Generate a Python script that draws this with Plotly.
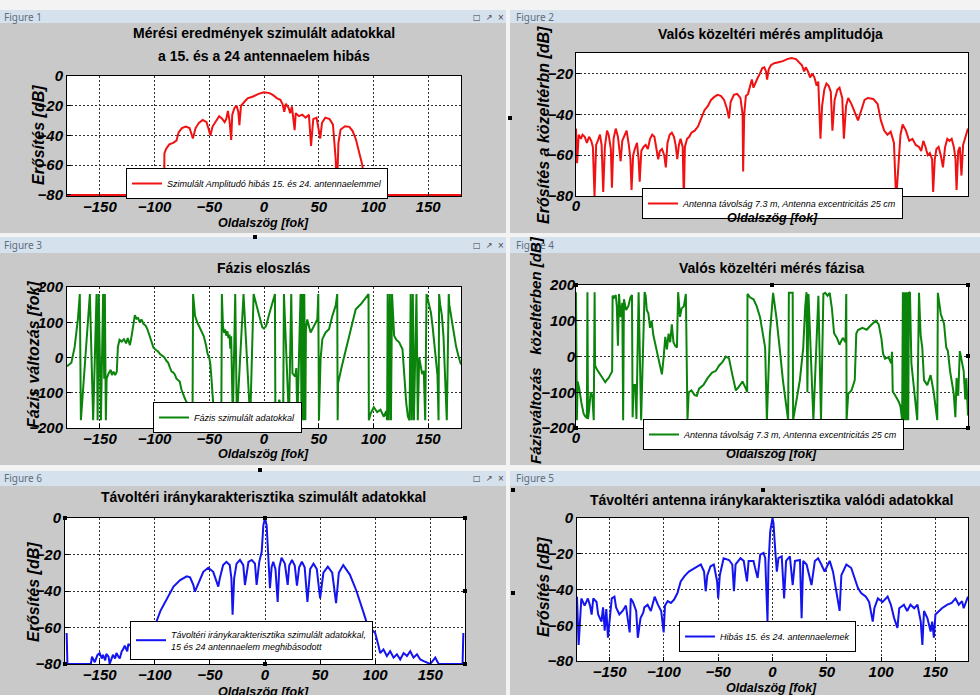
import plotly.graph_objects as go

W, H = 980, 695
FONT = "Liberation Sans, Arial, sans-serif"

RED = "#f01212"
GREEN = "#0b840b"
BLUE = "#1414f0"

# ---------------- data (angle, value) ----------------
sim_amplitude = [
    (-180, -80), (-91.2, -80), (-91, -52), (-89.5, -49), (-86.5, -46), (-83, -45), (-80, -43.5),
    (-78, -38), (-75, -35), (-71.5, -34), (-68, -35), (-66.5, -38), (-65, -42), (-62.5, -35),
    (-59.5, -31.5), (-56, -29.5), (-52.5, -31), (-50.5, -36), (-49, -40), (-47, -34), (-44, -30.5),
    (-41, -27), (-38.5, -28.5), (-36, -31), (-34.5, -29), (-33, -23.5), (-31.5, -30), (-30, -43),
    (-29, -26), (-27, -21.5), (-25, -20), (-23.5, -24), (-22.5, -33), (-21, -20), (-18, -17.5),
    (-15, -15), (-10, -13.8), (-5, -12), (0, -11), (5, -11.5), (8, -12.7), (12, -15), (15, -16),
    (17, -19), (18.5, -24), (20, -18.7), (22.5, -21.5), (24, -25), (25.5, -20.5), (28, -36.4),
    (29, -25), (32, -27), (35, -26), (38, -28), (41, -26), (43, -47), (45, -29), (48, -28),
    (51.4, -42), (53, -31.5), (56, -28), (60, -29), (63, -32.7), (65.5, -56), (66.5, -80),
    (68, -45), (70, -36), (74, -33.8), (78, -34.2), (81, -37), (84, -42.7), (87, -51.5),
    (90, -60.4), (90.5, -80), (180, -80),
]

real_nf_amplitude = [
    (0, -47), (1, -64), (2.5, -50), (4.5, -52), (6, -50), (8, -51), (10, -54), (12, -51), (14, -53),
    (15.5, -56), (17, -80), (18.5, -55), (20, -53), (22, -50), (23.5, -55), (25, -78), (26.5, -56),
    (28.5, -48), (30, -50), (32, -57), (33, -76), (34.5, -52), (36.5, -47), (38.5, -51), (40, -58),
    (41, -63), (42.5, -53), (44.5, -50), (46.5, -48), (48.5, -55), (50, -62), (51, -77), (52.5, -60),
    (54, -57), (56, -54), (57.5, -62), (58.5, -73), (60, -58), (62, -56), (64, -55), (66, -57),
    (68, -52), (70, -50), (72, -51), (74, -57), (75.5, -62), (77, -58), (79, -57), (81, -60),
    (82.5, -66), (84, -54), (86, -50), (88, -49), (90, -51), (91.5, -55), (93, -62), (94.5, -55),
    (96, -52), (98, -56), (99, -82), (100, -56), (102, -52), (104, -51), (106, -49), (109, -48),
    (112, -46), (115, -42), (118, -38), (121, -36), (124, -33), (127, -31.5), (130, -30.5),
    (133, -31), (136, -33), (138.5, -37), (140.5, -42), (142, -34), (145, -30.5), (148, -30),
    (151, -32), (153, -40), (153.5, -68), (154.5, -40), (156, -31), (158, -30), (160, -26),
    (161.5, -23), (163, -27), (165, -24), (167, -22), (169, -20), (171, -17.5), (173, -17),
    (174.5, -19), (175.5, -23), (177, -18), (179, -16), (182, -15), (186, -14.5), (190, -14),
    (194, -13), (198, -12.5), (202, -13), (205, -14.5), (207.5, -16), (209.5, -19), (211, -17),
    (213, -19), (215, -22), (217, -20), (219, -22), (221, -26), (222.5, -24), (224.5, -52),
    (226, -36), (228, -28), (230, -25), (232, -26), (234, -29), (235.5, -48), (237.5, -33),
    (240, -28), (242, -27), (244.5, -32), (246, -52), (248, -36), (250, -32), (253, -35),
    (256, -39), (259, -43), (262, -38), (265, -33), (268, -32), (273, -32.5), (277, -35),
    (280, -43), (283, -48), (286, -50), (289, -48.5), (292, -54), (294, -82), (296, -66),
    (298, -50), (300, -45), (303, -48), (306, -53), (309, -52), (312, -55), (315, -56), (317, -58),
    (319, -53), (321, -56), (323, -60), (325, -59), (327, -62), (328, -78), (329.5, -62),
    (331, -57), (333, -56), (335, -60), (337, -66), (339, -56), (341, -52), (343, -53), (345, -52),
    (347, -56), (348.5, -62), (349.5, -77), (351, -58), (352.5, -56), (354, -70), (355.5, -55),
    (357, -52), (360, -47),
]

sim_phase = [
    (-180, -25), (-176, -15), (-173, 30), (-170, 110), (-168.3, 180), (-167.3, -178), (-159.1, 180),
    (-156.1, -178), (-153, 180), (-152, -178), (-151, 180), (-149, -178), (-147, 180), (-146, -60),
    (-145.4, 180), (-144.5, -178), (-143.8, -60), (-142, -45), (-140, -35), (-139, -50),
    (-137.5, -40), (-136, -50), (-134.5, -40), (-133.5, 30), (-132, 50), (-130, 45), (-128, 52),
    (-126, 40), (-124.5, 55), (-122.5, 35), (-121, 60), (-119.5, 95), (-118, 120), (-116.5, 110),
    (-115, 112), (-113.5, 100), (-112, 108), (-110, 95), (-108, 90), (-106.5, 80), (-104.5, 60),
    (-102.5, 40), (-101, 28), (-99, 22), (-97, 18), (-95, 10), (-93, 5), (-91, 0), (-89, -10),
    (-87.5, -15), (-86, -28), (-84.5, -40), (-83, -42), (-81.5, -48), (-80, -60), (-78.5, -65),
    (-77, -68), (-75.5, -90), (-74, -105), (-72.5, -115), (-71, -125), (-69.5, -132), (-68, -150),
    (-66.5, -170), (-65.3, -178), (-64.8, 180), (-64, 140), (-63, 118), (-61, 100), (-59, 85),
    (-57, 72), (-55, 60), (-53, 35), (-51.5, 10), (-50, 0), (-49, -20), (-48, -60), (-47, -110),
    (-46, -150), (-45, -175), (-42, -178), (-39, -178), (-38.5, 180), (-37.5, 90), (-36.5, 70),
    (-35.5, 80), (-34.5, 62), (-33.5, 75), (-32.5, 55), (-31.5, 65), (-30.8, 25), (-30, 60),
    (-29.3, -100), (-28.5, -178), (-26.3, 180), (-24.8, -178), (-18.7, 180), (-12.6, -178),
    (-9.5, 180), (-6.5, 147), (-3.4, 110), (-1.6, 86), (0, 82), (2, 90), (4.4, 119), (7.5, 157),
    (10, 180), (10.4, -178), (14, -120), (17.5, -178), (18.2, 180), (22.8, -178), (24.9, 180),
    (26, -45), (27.4, -50), (28.5, -54), (29.5, -30), (30.5, -178), (33.4, 180), (34.3, -178),
    (35, 180), (36, -178), (36.8, 180), (37.8, -178), (38.3, 80), (39.5, 108), (42.6, 71),
    (45.6, 90), (48.7, 108), (49.6, 180), (50.2, -178), (51.7, -4), (53.3, 52), (56.3, 71),
    (59.4, 80), (62.4, 118), (65.5, 147), (66.9, 180), (67.3, -178), (67.7, -73), (71, -26),
    (74.6, 21), (79.2, 80), (83.8, 137), (88.4, 151), (93, 170), (95.5, 180), (95.8, -178),
    (97.3, -160), (100.3, -141), (103.4, -155), (106.4, -148), (109.5, -168), (111.6, -152),
    (112.5, -178), (113, 180), (114, -178), (115, 180), (116, -178), (117, 180), (118.9, 62),
    (121, 50), (123.5, 43), (126.5, 24), (127.5, -23), (128.5, -73), (130, -130), (131.5, -168),
    (133, -178), (134, 180), (135, -178), (136, 180), (137, -178), (139.3, 180), (140.5, -178),
    (141.8, 0), (143, -19), (144.5, -47), (146, -38), (147.3, -178), (148.5, 180), (150.9, 150),
    (152.5, 128), (154, 90), (155.5, 43), (157, 0), (158.5, -50), (159.5, -178), (160, 180),
    (161, 150), (162.5, 120), (164, 60), (165.5, -80), (167, -178), (168.8, 180), (169.3, 150),
    (172.4, 90), (175.4, 33), (178, 0), (180, -20),
]

real_nf_phase = [
    (0, 180), (0.8, -178), (1.5, -70), (3, -90), (5, -130), (7, -160), (8.6, -168), (10, -172),
    (10.5, 180), (11, -175), (12, -150), (13.5, -100), (15, -110), (16.3, -178), (17.1, 180),
    (17.5, -25), (19, -35), (21, -45), (23.5, -55), (26.9, -72), (28.5, -65), (30, -60), (32, -48),
    (33.2, -42), (33.6, 170), (35, 165), (36.5, 172), (37.5, 140), (38.5, 30), (39.5, 175),
    (41, 110), (42.5, 150), (43.3, -178), (44, 160), (46, 130), (48, 140), (50, 165), (51.4, 172),
    (52, -170), (53, -80), (54.5, -80), (55.5, -175), (57.5, 180), (59, -20), (59.8, -178),
    (63, 180), (64, 170), (65, 130), (66.5, 120), (68, 80), (69.5, 100), (71, 60), (73, 30),
    (75, 0), (77, -25), (78.9, -50), (80.5, -2), (82, 55), (83.5, 20), (85, 64), (86.5, 40),
    (88, 90), (89.5, 40), (91, 30), (92.7, 25), (93.8, 180), (95.5, 111), (97, 135), (99, 140),
    (100.9, 175), (102.4, -178), (103.5, -100), (106, -95), (109, -108), (111, -110), (113, -90),
    (117, -80), (121, -60), (125, -45), (128.5, -40), (131.5, -25), (134.6, -15), (137.6, 0),
    (140.5, -5), (143.5, -50), (146.8, -95), (149.5, -85), (152.9, -70), (156, -90), (157.2, -100),
    (157.5, 175), (160, 165), (163, 160), (166, 140), (169, 110), (171.5, 64), (173.7, 25),
    (175.3, -178), (176.5, -60), (178, 60), (181, 178), (184, 110), (187, 25), (190, -66),
    (194.8, -178), (195.5, 178), (199, 178), (199.4, -178), (205.6, -66), (208.7, 25),
    (210.5, 140), (211.7, 180), (212.5, -100), (213.5, 175), (218, -178), (222.6, 170),
    (225, -178), (227.2, 175), (229, 178), (231, 170), (233, 178), (235, 135), (237, 65),
    (239.6, 52), (242, 33), (245, 52), (247.5, 40), (248.2, 175), (248.5, -178), (250, -104),
    (253, -95), (256, -66), (257.4, 64), (259, 74), (263, 80), (267, 75), (271, 88), (274, 97),
    (275.3, 100), (278, 90), (280.5, 50), (282, 8), (283.8, -6), (287, -2), (289.5, -19),
    (290.2, 13), (290.9, -98), (294, -113), (296.5, -127), (298, -140), (299.5, -178), (300.2, 180),
    (300.9, -178), (301.6, 180), (302.3, -178), (303, 180), (303.7, -178), (304.4, 180),
    (305.1, -178), (305.8, 178), (306.7, 180), (308, -19), (310, -75), (312, -122), (313.4, -178),
    (315, 178), (316.5, 60), (318, 25), (319.6, -66), (322.6, -80), (325.7, -52), (328.5, -100),
    (331.8, -178), (332.3, 178), (335, 119), (338, 92), (340, 25), (341.5, 16), (343.5, -40),
    (346.9, -104), (348.4, -170), (349.5, -60), (351, -110), (352.5, 15), (354, -5), (356, -40),
    (357.5, -120), (358.5, -60), (360, -165),
]

sim_far_field = [
    (-180, -63), (-179.3, -80), (-158, -80), (-157, -76), (-154.5, -79), (-152, -75), (-150, -74),
    (-148, -77), (-147, -75), (-145, -78), (-144, -74.5), (-142, -76), (-141, -80), (-139, -76),
    (-138, -75), (-136, -77), (-134.8, -74), (-133, -76), (-131.8, -77), (-130, -73),
    (-128.8, -72), (-127.3, -70), (-125, -73), (-124, -69), (-120, -71), (-115, -68), (-110, -65),
    (-105, -61), (-100, -58), (-98.5, -56.7), (-95, -51), (-89, -44), (-83, -37.6), (-77, -34),
    (-71, -32), (-68, -32.5), (-65, -36.7), (-63.6, -40.4), (-60.5, -35.8), (-56, -29.5),
    (-51.5, -27.3), (-47, -29.5), (-42.4, -37.6), (-41, -33), (-38, -25.8), (-35, -24),
    (-32, -25.8), (-30.5, -33), (-29.4, -53), (-28, -33), (-25.8, -25), (-22.7, -23),
    (-19.7, -25.8), (-18.2, -36.7), (-15, -24), (-12, -23), (-9.1, -25), (-7.6, -36.7),
    (-5.2, -24), (-3, -18.5), (-1.5, -4), (0, 0), (1.5, -4), (3, -18.5), (4.5, -38.5), (6, -27),
    (7.5, -24), (9.5, -28), (11.5, -46), (13, -27), (15, -21.8), (18, -25), (20.6, -36.7),
    (22, -26), (24.5, -23), (27, -26), (29, -37), (31, -27), (33.5, -24), (36, -27),
    (38.5, -46), (41, -28), (44, -25), (47, -28), (50, -44), (53, -30), (57, -26.7), (61, -30),
    (64.5, -46.7), (67, -30), (71, -25.8), (77, -31), (83, -40), (89, -51), (92, -56.7),
    (95, -60), (100, -63), (103, -70), (104.5, -74), (107.5, -72), (110.6, -75.6), (113.6, -73),
    (116.7, -76.5), (119.7, -74.7), (122.7, -77.5), (125.8, -74), (128.8, -75.6), (131.8, -73),
    (134.8, -76.5), (137.9, -74.7), (140.9, -77.5), (144, -78.4), (147, -79), (150, -80),
    (154.5, -76.5), (157.6, -80), (179.3, -80), (180, -63),
]

real_far_field = [
    (-180, -44), (-178.5, -71), (-176, -45), (-173, -49), (-170, -45), (-168, -49), (-166.5, -54),
    (-165, -45), (-162, -47), (-160.5, -54), (-157.5, -58), (-156, -50), (-154.5, -63),
    (-153, -51), (-151.5, -67), (-150, -58), (-148, -45), (-145.5, -44), (-144, -50), (-141, -54),
    (-138, -52), (-135, -49), (-131.5, -64), (-130.5, -45), (-128.5, -47), (-125.5, -52),
    (-124, -67), (-121.5, -56), (-119, -53), (-118, -50), (-115, -48.5), (-112, -52),
    (-108.5, -44), (-105.5, -48.5), (-102.5, -52), (-100.2, -64), (-99, -49), (-96.5, -46.5),
    (-93.5, -47.5), (-90.5, -45.5), (-87.5, -42), (-84.5, -35.5), (-81, -32.5), (-77, -30),
    (-72, -28), (-66, -26), (-63, -30), (-61.5, -41), (-60, -32), (-57, -27), (-54, -26),
    (-51, -35.5), (-50, -45), (-48.5, -32), (-45, -22.5), (-40, -23.5), (-37, -26), (-35.5, -41),
    (-34, -26), (-29.5, -22.5), (-26.5, -24), (-23.5, -35.5), (-22, -24), (-17.5, -24),
    (-16, -28), (-13.7, -33.5), (-11.3, -20.5), (-8.2, -19.5), (-6.7, -22.5), (-5.2, -52),
    (-4.6, -58), (-3.7, -26), (-2.1, -7.5), (0, 0), (0.9, -2.8), (2.4, -17), (4, -30),
    (5.5, -22.5), (8.5, -21.5), (10.7, -45), (12.5, -24), (16, -21.5), (18.6, -37.5),
    (20.7, -24), (25.3, -23.5), (26.8, -56), (28.3, -24), (31.4, -26), (35.9, -37.5), (39, -24),
    (42, -22.5), (45, -26), (48, -30), (51, -26), (52.7, -24), (55.7, -30), (61.8, -52),
    (63.4, -32), (68, -26), (72.5, -28), (75.5, -33.5), (78.6, -39), (81.6, -42), (86, -44),
    (89, -47), (92.3, -58), (93.8, -50.5), (97, -45), (101.4, -47), (106, -44), (109, -48.5),
    (112, -56), (115, -61.5), (116.7, -50.5), (121, -48.5), (124, -52), (127, -48.5),
    (130.5, -50.5), (133.5, -48.5), (136.5, -58), (138, -71), (139.5, -52), (142.6, -56),
    (145.6, -63.5), (147, -58), (148.6, -67), (150, -54), (153, -52), (156, -50.5), (161, -48.5),
    (165, -47.5), (168.5, -45), (171.5, -48.5), (174.5, -46.5), (176, -50.5), (180, -44),
]

tick_side = [-150, -100, -50, 0, 50, 100, 150]
tick_full = [0, 360]
tick_db = [0, -20, -40, -60, -80]
tick_db_nf = [-20, -40, -60, -80]
tick_phase = [200, 100, 0, -100, -200]

legend_texts = [
    "Szimulált Amplitudó hibás 15. és 24. antennaelemmel",
    "Antenna távolság 7.3 m, Antenna excentricitás 25 cm",
    "Fázis szimulált adatokkal",
    "Antenna távolság 7.3 m, Antenna excentricitás 25 cm",
    "Távoltéri iránykarakterisztika szimulált adatokkal,<br>15 és 24 antennaelem meghibásodott",
    "Hibás 15. és 24. antennaelemek",
]


# ---------------- helpers ----------------
def fx(px):
    return px / W


def fy(py):
    return 1 - py / H


def axis(dom, rng, tickvals, grid=True, standoff=None, **kw):
    d = dict(
        domain=dom, range=rng, tickvals=tickvals, showline=True, mirror=True,
        linecolor="black", linewidth=1, ticks="inside", ticklen=4, tickcolor="black",
        tickfont=dict(family=FONT, size=15, color="black", weight="bold", style="italic"),
        showgrid=grid, gridcolor="#303030", griddash="2px,2px", gridwidth=1,
        zeroline=False, fixedrange=True, automargin=False,
    )
    if standoff is not None:
        d["ticklabelstandoff"] = standoff
    d.update(kw)
    return d


fig = go.Figure()

series = [
    (sim_amplitude, RED, "x", "y", "legend"),
    (real_nf_amplitude, RED, "x2", "y2", "legend2"),
    (sim_phase, GREEN, "x3", "y3", "legend3"),
    (real_nf_phase, GREEN, "x4", "y4", "legend4"),
    (sim_far_field, BLUE, "x5", "y5", "legend5"),
    (real_far_field, BLUE, "x6", "y6", "legend6"),
]
for (pts, col, xa, ya, lg), name in zip(series, legend_texts):
    xs = [p[0] for p in pts]
    ys = [p[1] for p in pts]
    fig.add_trace(go.Scatter(x=xs, y=ys, mode="lines", name=name, xaxis=xa, yaxis=ya,
                             legend=lg, line=dict(color=col, width=2), hoverinfo="skip"))

# plot rectangles in pixels: (left, right, top, bottom)
P1 = (67, 461, 76, 196)
P2 = (576, 968, 53, 196)
P3 = (67, 461, 287, 428)
P4 = (576, 968, 285, 428)
P5 = (65, 465, 518, 664)
P6 = (577, 968, 518, 661)


def dx(p):
    return [fx(p[0]), fx(p[1])]


def dy(p):
    return [fy(p[3]), fy(p[2])]


layout_axes = dict(
    xaxis=axis(dx(P1), [-180, 180], tick_side, anchor="y", standoff=-3),
    yaxis=axis(dy(P1), [-80.7, 0], tick_db, anchor="x"),
    xaxis2=axis(dx(P2), [0, 360], tick_full, grid=False, anchor="y2", standoff=-4),
    yaxis2=axis(dy(P2), [-80, -10], tick_db_nf, anchor="x2", standoff=-1),
    xaxis3=axis(dx(P3), [-180, 180], tick_side, anchor="y3", standoff=-3),
    yaxis3=axis(dy(P3), [-200, 200], tick_phase, anchor="x3"),
    xaxis4=axis(dx(P4), [0, 360], tick_full, grid=False, anchor="y4", standoff=-4),
    yaxis4=axis(dy(P4), [-200, 200], tick_phase, anchor="x4", standoff=-3),
    xaxis5=axis(dx(P5), [-181.5, 181.5], tick_side, anchor="y5", standoff=-3),
    yaxis5=axis(dy(P5), [-80, 0], tick_db, anchor="x5"),
    xaxis6=axis(dx(P6), [-180, 180], tick_side, anchor="y6", standoff=-3),
    yaxis6=axis(dy(P6), [-80, 0], tick_db, anchor="x6"),
)


def legend_at(px, py):
    return dict(
        x=fx(px), y=fy(py), xanchor="left", yanchor="top", bgcolor="white",
        bordercolor="black", borderwidth=1, itemwidth=30, tracegroupgap=0,
        font=dict(family=FONT, size=9, color="black", style="italic"),
        itemclick=False, itemdoubleclick=False,
    )


legends = dict(
    legend=legend_at(126, 168),
    legend2=legend_at(642, 188),
    legend3=legend_at(153, 402),
    legend4=legend_at(643, 419),
    legend5=legend_at(130, 621),
    legend6=legend_at(679, 621),
)

# ---------------- window chrome ----------------
shapes = []


def rect(x0, y0, x1, y1, color, layer="below"):
    shapes.append(dict(type="rect", xref="paper", yref="paper", x0=fx(x0), x1=fx(x1),
                       y0=fy(y1), y1=fy(y0), fillcolor=color, line=dict(width=0), layer=layer))


SEP = "#f3f3f3"
BAR = "#d5e1ed"
rect(0, 0, 980, 10, SEP)
rect(0, 233, 980, 237, SEP)
rect(0, 465, 980, 471, SEP)
rect(506, 0, 510, 695, SEP)
for (y0, y1) in [(10, 23), (237, 253), (471, 486)]:
    rect(0, y0, 506, y1, BAR)
    rect(510, y0, 980, y1, BAR)

# small edit handles seen on the screenshot
handles = [(576, 285), (772, 285), (968, 285), (968, 356), (968, 428), (772, 428), (576, 428),
           (65, 518), (265, 518), (465, 518), (465, 591), (465, 664), (265, 664), (65, 664),
           (513, 490), (763, 490), (513, 593), (510, 118), (260, 470), (255, 237)]
for (hx, hy) in handles:
    rect(hx - 2, hy - 2, hx + 2, hy + 2, "black", layer="above")

annotations = []


def text(x, y, s, size=16, bold=True, italic=False, angle=0, xanchor="center",
         color="black", family=FONT):
    f = dict(family=family, size=size, color=color)
    if bold:
        f["weight"] = "bold"
    if italic:
        f["style"] = "italic"
    annotations.append(dict(x=fx(x), y=fy(y), xref="paper", yref="paper", text=s,
                            showarrow=False, font=f, textangle=angle, xanchor=xanchor,
                            yanchor="middle"))


# figure labels on title bars
for (lbl, x, y) in [("Figure 1", 2, 17), ("Figure 2", 514, 17), ("Figure 3", 2, 245),
                    ("Figure 4", 514, 245), ("Figure 6", 2, 478), ("Figure 5", 514, 478)]:
    text(x, y, lbl, size=10, bold=False, xanchor="left", color="#5d6e80", family="Noto Sans")
for y in [17, 245, 478]:
    text(488, y, "□  ↗  ×", size=8, bold=False, color="#404040", family="DejaVu Sans")

# titles
TS = 14
text(264, 33, "Mérési eredmények szimulált adatokkal", size=TS)
text(264, 56, "a 15. és a 24 antennaelem hibás", size=TS)
text(770, 34, "Valós közeltéri mérés amplitudója", size=TS)
text(264, 268, "Fázis eloszlás", size=TS)
text(771, 268, "Valós közeltéri mérés fázisa", size=TS)
text(263, 497, "Távoltéri iránykarakterisztika szimulált adatokkal", size=TS)
text(771, 500, "Távoltéri antenna iránykarakterisztika valódi adatokkal", size=TS)

# axis titles
for (x, y) in [(263, 223), (772, 218), (263, 454), (771, 454), (263, 692), (771, 688)]:
    text(x, y, "Oldalszög [fok]", size=12.5, italic=True)
text(38, 135, "Erősítés [dB]", italic=True, angle=-90)
text(543, 125, "Erősítés a közeltérbn [dB]", italic=True, angle=-90)
text(33, 355, "Fázis változás [fok]", italic=True, angle=-90)
text(535, 350, "Fázisváltozás   közeltérben [dB]", size=15, italic=True, angle=-90)
text(33, 592, "Erősítés [dB]", italic=True, angle=-90)
text(543, 587, "Erősítés [dB]", italic=True, angle=-90)

fig.update_layout(
    width=W, height=H, autosize=False,
    margin=dict(l=0, r=0, t=0, b=0, pad=0),
    paper_bgcolor="#c9c9c9", plot_bgcolor="white",
    showlegend=True, hovermode=False,
    shapes=shapes, annotations=annotations,
    **layout_axes, **legends,
)

fig.write_html(
    "out.html",
    config=dict(displayModeBar=False, responsive=False),
    post_script="document.body.style.margin='0px';document.body.style.padding='0px';"
                "document.body.style.overflow='hidden';",
)
